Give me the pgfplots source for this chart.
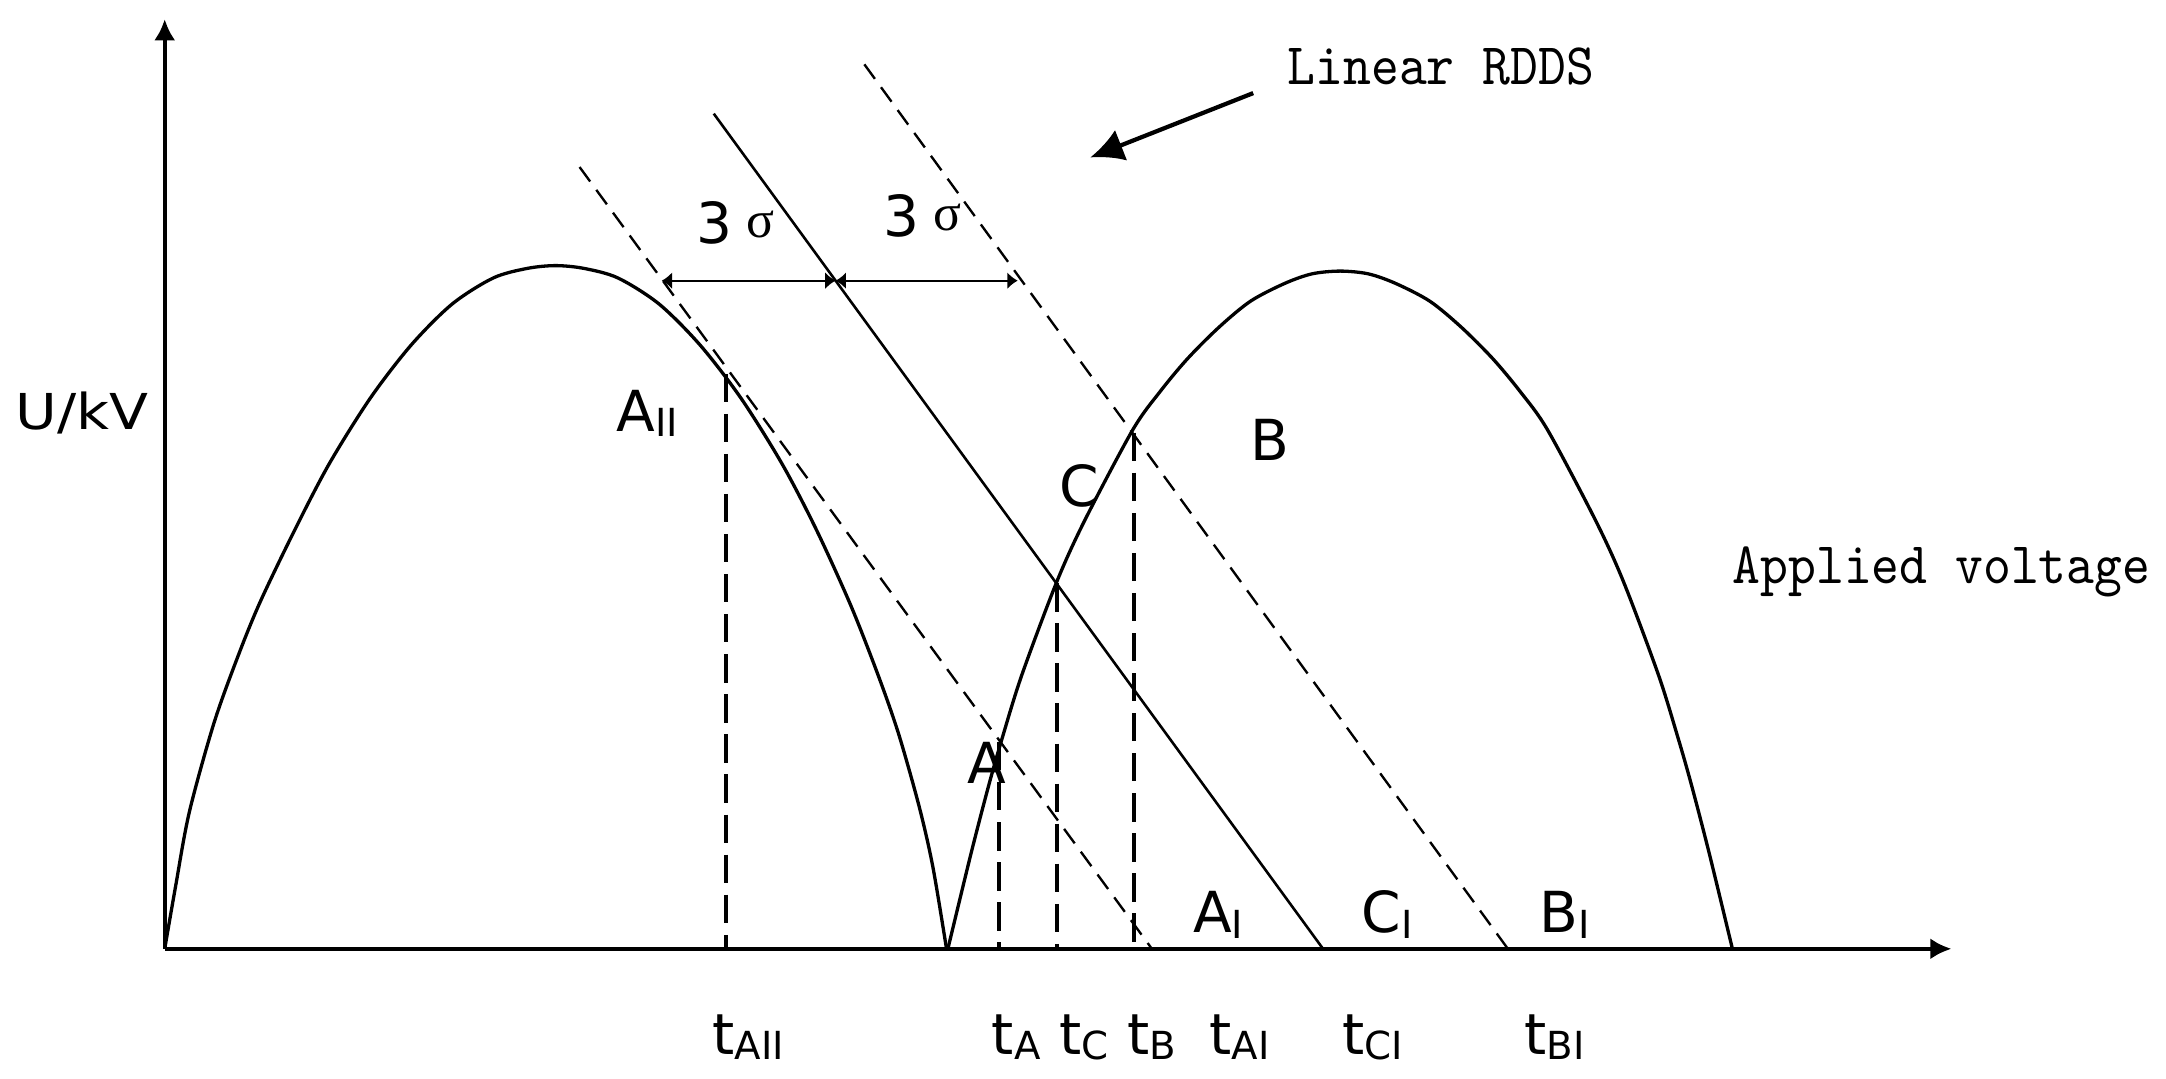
\documentclass[border=0pt]{standalone}
\usepackage{fontspec}
\setmainfont{DejaVu Sans}
\newfontfamily\monof[FakeStretch=0.9]{lmmono10-regular.otf}
\newfontfamily\serf{Liberation Serif}
\newfontfamily\uk[FakeStretch=1.15]{DejaVu Sans}
\usepackage{pgfplots}
\pgfplotsset{compat=1.18}
\usetikzlibrary{arrows.meta}

% subscript used in the point and time labels
\newcommand{\sub}[1]{\raisebox{-1.2pt}{\fontsize{8.2}{9}\selectfont #1}}
\newcommand{\lbl}{\fontsize{12}{14}\selectfont}

\begin{document}
\begin{tikzpicture}
\begin{axis}[
  scale only axis,
  x=0.010204cm, y=0.010204cm,
  xmin=0, xmax=1305, ymin=0, ymax=679,
  axis lines=left,
  axis line style={line width=0.85pt, -{Latex[length=4.5pt,width=4.5pt]}},
  xtick=\empty, ytick=\empty,
  clip=false,
]
\path (axis cs:-117,-95) rectangle (axis cs:1451,693);

% applied voltage, first half wave
\addplot[line width=0.7pt, smooth] coordinates {
(0,0) (8,46) (18,100) (36,165) (54,215) (70,254) (95,306)
(120,354) (150,402) (180,441) (210,471) (240,490) (265,497) (285.5,499)
(306,497) (331,490) (361,471) (391,441) (421,402) (451,354) (476,306)
(501,251) (521,200) (536,157) (551,104) (561,60) (571,0)
};
% second half wave
\addplot[line width=0.7pt, smooth] coordinates {
(572,0) (589,70) (602,120) (612,155) (626,200) (651.5,268) (672,313)
(707,379) (727,407) (747,431) (770,454) (793,473) (818,486) (838,493) (858.5,495)
(879,493) (899,486) (924,473) (947,454) (970,431) (990,407) (1010,379)
(1045,313) (1065.5,268) (1091,200) (1105,155) (1115,120) (1128,70) (1145,0)
};

% linear RDDS and the 3 sigma bounds
\addplot[line width=0.55pt] coordinates {(401,610) (846,0)};
\addplot[line width=0.5pt, dash pattern=on 3.8pt off 2.2pt] coordinates {(303,571) (721,0)};
\addplot[line width=0.5pt, dash pattern=on 3.8pt off 2.2pt] coordinates {(511,646) (981,0)};

% vertical drops
\addplot[line width=0.85pt, dash pattern=on 6pt off 2.5pt] coordinates {(410,420) (410,0)};
\addplot[line width=0.85pt, dash pattern=on 6pt off 2.5pt] coordinates {(609.5,151) (609.5,0)};
\addplot[line width=0.85pt, dash pattern=on 6pt off 2.5pt] coordinates {(651.5,267) (651.5,0)};
\addplot[line width=0.85pt, dash pattern=on 6pt off 2.5pt] coordinates {(708,377) (708,0)};

% 3 sigma arrows
\addplot[line width=0.4pt, {Latex[length=2.2pt,width=3.6pt]}-{Latex[length=2.2pt,width=3.6pt]}] coordinates {(363,488) (490,488)};
\addplot[line width=0.4pt, {Latex[length=2.2pt,width=3.6pt]}-{Latex[length=2.2pt,width=3.6pt]}] coordinates {(490,488) (623,488)};

% pointer to the RDDS
\addplot[line width=0.9pt, -{Latex[length=7pt,width=7pt]}] coordinates {(795,625) (676,578)};

\node[anchor=base west, font=\uk\fontsize{10.5}{12}\selectfont] at (axis cs:-121,379) {U/kV};
\node[anchor=base west, font=\monof\fontsize{12.5}{15}\selectfont] at (axis cs:808,631) {Linear RDDS};
\node[anchor=base west, font=\monof\fontsize{12.5}{15}\selectfont] at (axis cs:1133,267) {Applied voltage};

\node[anchor=base west, font=\lbl] at (axis cs:376,515) {3\hspace{3pt}\raisebox{1.3pt}{\fontsize{11}{12}\serf σ}};
\node[anchor=base west, font=\lbl] at (axis cs:513,520) {3\hspace{3pt}\raisebox{1.3pt}{\fontsize{11}{12}\serf σ}};

\node[anchor=base west, font=\lbl] at (axis cs:318,378) {A\sub{II}};
\node[anchor=base west, font=\lbl] at (axis cs:641,323) {C};
\node[anchor=base west, font=\lbl] at (axis cs:781,357) {B};
\node[anchor=base west, font=\lbl] at (axis cs:574,121) {A};
\node[anchor=base west, font=\lbl] at (axis cs:739,12) {A\sub{I}};
\node[anchor=base west, font=\lbl] at (axis cs:862,12) {C\sub{I}};
\node[anchor=base west, font=\lbl] at (axis cs:992,12) {B\sub{I}};

\node[anchor=base west, font=\lbl] at (axis cs:388,-77) {t\sub{AII}};
\node[anchor=base west, font=\lbl] at (axis cs:592,-77) {t\sub{A}};
\node[anchor=base west, font=\lbl] at (axis cs:641,-77) {t\sub{C}};
\node[anchor=base west, font=\lbl] at (axis cs:691,-77) {t\sub{B}};
\node[anchor=base west, font=\lbl] at (axis cs:751,-77) {t\sub{AI}};
\node[anchor=base west, font=\lbl] at (axis cs:848,-77) {t\sub{CI}};
\node[anchor=base west, font=\lbl] at (axis cs:981,-77) {t\sub{BI}};
\end{axis}
\end{tikzpicture}
\end{document}
